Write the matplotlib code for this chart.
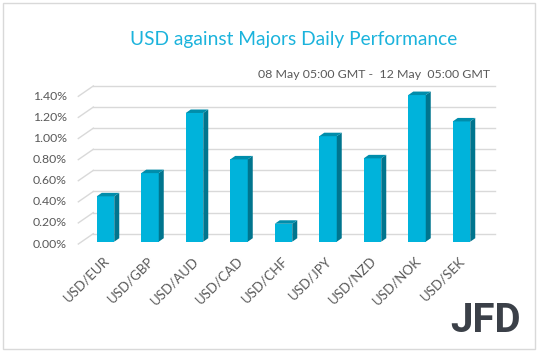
import matplotlib
matplotlib.use('Agg')
import matplotlib.pyplot as plt
from matplotlib.patches import Polygon, Rectangle

# data (percent)
pairs = ['USD/EUR', 'USD/GBP', 'USD/AUD', 'USD/CAD', 'USD/CHF',
         'USD/JPY', 'USD/NZD', 'USD/NOK', 'USD/SEK']
perf = [0.43, 0.65, 1.22, 0.78, 0.17, 1.00, 0.79, 1.39, 1.14]
ticks = [0.0, 0.2, 0.4, 0.6, 0.8, 1.0, 1.2, 1.4]
title = 'USD against Majors Daily Performance'
subtitle = '08 May 05:00 GMT -  12 May  05:00 GMT'

front_c = '#00B3DB'
side_c = '#00758E'
top_c = '#008DAB'
grid_c = '#D9D9D9'
text_c = '#595959'

plt.rcParams['font.family'] = ['Lato', 'DejaVu Sans']

W, H = 538, 352
fig = plt.figure(figsize=(W / 100, H / 100), dpi=100)
ax = fig.add_axes([0, 0, 1, 1])
# one category = 44.5 px, 1 % = 105.5 px, first bar centre at x=105.5px, zero at y=241.7px
px_x, px_y = 44.5, 105.5
ax.set_xlim(-105.5 / px_x, (W - 105.5) / px_x)
ax.set_ylim((241.7 - H) / px_y, 241.7 / px_y)
ax.axis('off')

# pseudo 3d depth
bw = 17.5 / px_x
bdx, bdy = 5 / px_x, 3.5 / px_y
fx0, fy0 = -0.611, -0.022     # floor front left
bx0, by0 = -0.274, 0.076      # wall back left
bx1 = 8.753

for t in ticks:
    ax.plot([fx0, bx0], [t + fy0, t + by0], color=grid_c, lw=1, zorder=1)
    ax.plot([bx0, bx1], [t + by0, t + by0], color=grid_c, lw=1, zorder=1)
    ax.text(fx0 - 11.5 / px_x, t + fy0, f'{t:.2f}%', ha='right', va='center',
            fontsize=8.8, color=text_c)

for i, v in enumerate(perf):
    l, r = i - bw / 2, i + bw / 2
    ax.bar(i, v, width=bw, color=front_c, zorder=3, linewidth=0)
    ax.add_patch(Polygon([(r, 0), (r, v), (r + bdx, v + bdy), (r + bdx, bdy)],
                         closed=True, facecolor=side_c, lw=0, zorder=3))
    ax.add_patch(Polygon([(l, v), (r, v), (r + bdx, v + bdy), (l + bdx, v + bdy)],
                         closed=True, facecolor=top_c, lw=0, zorder=3))
    ax.text(i + 0.04, -0.16, pairs[i], rotation=45, rotation_mode='anchor',
            ha='right', va='center', fontsize=9.5, color=text_c)

fig.text(293.5 / W, 1 - 40 / H, title, ha='center', va='center',
         fontsize=13.8, color='#1BB3DC')
fig.text(490 / W, 1 - 74 / H, subtitle, ha='right', va='center',
         fontsize=8.9, color=text_c)
fig.text(521 / W, 1 - 321.5 / H, 'JFD', ha='right', va='center',
         fontsize=29, fontweight='bold', family=['Roboto', 'DejaVu Sans'],
         color='#3B4048')

fig.patches.append(Rectangle((2.5 / W, 3.5 / H), 532 / W, 346 / H,
                             transform=fig.transFigure, fill=False,
                             edgecolor=grid_c, lw=1))

fig.savefig('out.png', dpi=100)
